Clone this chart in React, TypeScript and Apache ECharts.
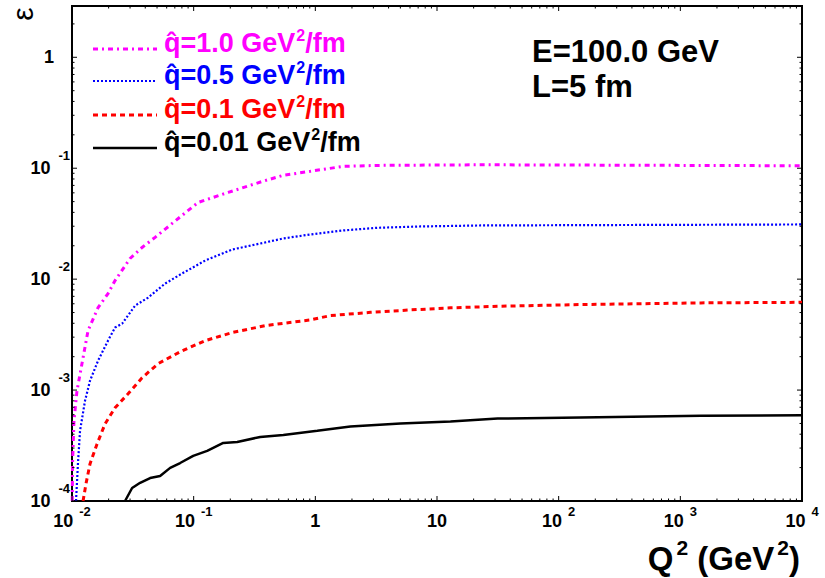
import React, { useEffect, useRef } from 'react';
import * as echarts from 'echarts';

// q̂ = 1.0 GeV²/fm
const q2Q10 = [0.01005, 0.0101, 0.01038, 0.01099, 0.01233, 0.01355, 0.01637, 0.01977, 0.02259, 0.02999, 0.03767, 0.04819, 0.0804, 0.1089, 0.1923, 0.3664, 0.5458, 0.9099, 1.698, 3.236, 22.8, 316, 10000];
const epsQ10 = [0.0001, 0.000216, 0.000528, 0.000986, 0.00196, 0.00344, 0.00553, 0.00741, 0.00971, 0.01535, 0.0193, 0.0238, 0.0376, 0.0492, 0.0605, 0.076, 0.0863, 0.0938, 0.104, 0.106, 0.1074, 0.1065, 0.1052];
// q̂ = 0.5 GeV²/fm
const q2Q05 = [0.01079, 0.01119, 0.01164, 0.01279, 0.01406, 0.01637, 0.01977, 0.02259, 0.02582, 0.03304, 0.04227, 0.0582, 0.0804, 0.1245, 0.2075, 0.3873, 0.5458, 0.9099, 1.698, 3.236, 7.31, 22.8, 10000];
const epsQ05 = [0.0001, 0.000216, 0.000429, 0.0008, 0.001213, 0.00184, 0.00279, 0.00366, 0.00397, 0.00578, 0.00682, 0.00912, 0.01125, 0.01472, 0.01849, 0.02143, 0.02328, 0.02529, 0.02748, 0.02904, 0.02985, 0.03048, 0.03112];
// q̂ = 0.1 GeV²/fm
const q2Q01 = [0.01233, 0.01303, 0.01406, 0.01607, 0.01871, 0.02259, 0.02891, 0.03767, 0.05105, 0.0804, 0.1245, 0.2075, 0.3873, 0.5458, 0.9099, 1.327, 2.838, 6.05, 12.91, 31.5, 151.7, 1476, 10000];
const epsQ01 = [0.0001, 0.000143, 0.000216, 0.000327, 0.000497, 0.000692, 0.000927, 0.00129, 0.00173, 0.00226, 0.00279, 0.0033, 0.00381, 0.004, 0.00429, 0.00469, 0.00502, 0.00528, 0.00551, 0.00569, 0.0059, 0.00611, 0.00618];
// q̂ = 0.01 GeV²/fm
const q2Q001 = [0.02729, 0.03119, 0.03631, 0.04385, 0.05297, 0.0641, 0.0774, 0.0991, 0.1291, 0.175, 0.228, 0.3524, 0.5458, 1.0375, 1.941, 5.01, 12.91, 31.5, 151.7, 1476, 10000];
const epsQ001 = [0.0001, 0.000131, 0.000146, 0.000161, 0.000168, 0.000199, 0.00022, 0.000255, 0.000283, 0.000334, 0.000341, 0.000378, 0.000394, 0.000429, 0.000469, 0.000499, 0.00052, 0.000553, 0.000565, 0.000586, 0.000594];

const legendLabels = ['q̂=1.0 GeV', 'q̂=0.5 GeV', 'q̂=0.1 GeV', 'q̂=0.01 GeV'];
const legendColors = ['#ff00ff', '#0000ff', '#ff0000', '#000000'];
const annotation = ['E=100.0 GeV', 'L=5 fm'];

const X_MIN = 0.01;
const X_MAX = 10000;
const Y_MIN = 0.0001;
const Y_MAX = 2.9;

const FONT = "'Liberation Sans', Arial, Helvetica, sans-serif";

function pairs(xs: number[], ys: number[]) {
  return xs.map((x, i) => [x, ys[i]]);
}

function powLabel(v: number, axis: 'x' | 'y') {
  const l = Math.log10(v);
  const e = Math.round(l);
  if (Math.abs(l - e) > 1e-6) return '';
  if (e === 0) return axis === 'y' ? '{one|1}' : '{a|1}';
  if (e === 1 && axis === 'x') return '{a|10}';
  return `{a|10}{s|${e}}`;
}

export default function App() {
  const ref = useRef<HTMLDivElement>(null);
  useEffect(() => {
    if (!ref.current) return;
    const chart = echarts.init(ref.current, undefined, { renderer: 'svg' });

    const tickData: number[][] = [];
    for (let k = -2; k < 4; k++) {
      for (let m = 1; m < 10; m++) tickData.push([m * Math.pow(10, k), Y_MIN, m === 1 ? 1 : 0, 0]);
    }
    tickData.push([X_MAX, Y_MIN, 1, 0]);
    for (let k = -4; k <= 0; k++) {
      for (let m = 1; m < 10; m++) {
        const v = m * Math.pow(10, k);
        if (v <= Y_MAX) tickData.push([X_MIN, v, m === 1 ? 1 : 0, 1]);
      }
    }

    const legendGraphics: any[] = [];
    const rowY = [49, 81, 115, 148];
    const dashes: any[] = [[5, 4, 2, 4], [2, 2], [5, 4], null];
    const widths = [3, 2.2, 3, 2.5];
    legendLabels.forEach((lab, i) => {
      legendGraphics.push({
        type: 'line',
        shape: { x1: 93, y1: rowY[i], x2: 157, y2: rowY[i] },
        style: { stroke: legendColors[i], lineWidth: widths[i], lineDash: dashes[i] || undefined },
      });
      legendGraphics.push({
        type: 'text',
        x: 164,
        y: rowY[i] - 6,
        style: {
          text: `{m|${lab}}{s|2}{m|/fm}`,
          fill: legendColors[i],
          verticalAlign: 'middle',
          rich: {
            m: { fontSize: 27, fontWeight: 'bold', fontFamily: FONT, fill: legendColors[i], lineHeight: 26 },
            s: { fontSize: 16, fontWeight: 'bold', fontFamily: FONT, fill: legendColors[i], padding: [0, 0, 16, 1], lineHeight: 26 },
          },
        },
      });
    });

    const option: any = {
      animation: false,
      backgroundColor: '#fff',
      grid: { left: 72, right: 23, top: 6, bottom: 77, show: true, borderColor: '#000', borderWidth: 2, backgroundColor: 'transparent' },
      xAxis: {
        type: 'log', logBase: 10, min: X_MIN, max: X_MAX,
        axisLine: { show: false }, axisTick: { show: false }, splitLine: { show: false },
        axisLabel: {
          margin: 3,
          formatter: (v: number) => powLabel(v, 'x'),
          rich: {
            a: { fontSize: 18, fontWeight: 'bold', fontFamily: FONT, color: '#000', lineHeight: 34 },
            s: { fontSize: 13, fontWeight: 'bold', fontFamily: FONT, color: '#000', padding: [0, 0, 20, 6] },
          },
        },
      },
      yAxis: {
        type: 'log', logBase: 10, min: Y_MIN, max: Y_MAX,
        axisLine: { show: false }, axisTick: { show: false }, splitLine: { show: false },
        axisLabel: {
          margin: 2,
          formatter: (v: number) => powLabel(v, 'y'),
          rich: {
            a: { fontSize: 18, fontWeight: 'bold', fontFamily: FONT, color: '#000' },
            one: { fontSize: 18, fontWeight: 'bold', fontFamily: FONT, color: '#000', padding: [0, 16, 0, 0] },
            s: { fontSize: 13, fontWeight: 'bold', fontFamily: FONT, color: '#000', padding: [0, 0, 26, 8] },
          },
        },
      },
      graphic: [
        ...legendGraphics,
        {
          type: 'text', x: 532, y: 51,
          style: { text: annotation[0], fill: '#000', font: `bold 31px ${FONT}`, verticalAlign: 'middle' },
        },
        {
          type: 'text', x: 532, y: 86,
          style: { text: annotation[1], fill: '#000', font: `bold 31px ${FONT}`, verticalAlign: 'middle' },
        },
        {
          type: 'text', x: 800, y: 558,
          style: {
            text: '{m|Q}{s|2}{m| (GeV}{s|2}{m|)}',
            align: 'right', verticalAlign: 'middle',
            rich: {
              m: { fontSize: 33, fontWeight: 'bold', fontFamily: FONT, fill: '#000', lineHeight: 34 },
              s: { fontSize: 21, fontWeight: 'bold', fontFamily: FONT, fill: '#000', padding: [0, 0, 22, 3], lineHeight: 34 },
            },
          },
        },
        {
          type: 'text', x: 22, y: 14, rotation: Math.PI / 2,
          style: { text: 'ε', fill: '#000', font: `30px ${FONT}`, align: 'center', verticalAlign: 'middle' },
        },
      ],
      series: [
        {
          name: 'q̂=1.0 GeV²/fm', type: 'line', showSymbol: false, symbol: 'none',
          data: pairs(q2Q10, epsQ10),
          lineStyle: { color: '#ff00ff', width: 3, type: [5, 4, 2, 4], cap: 'butt' },
        },
        {
          name: 'q̂=0.5 GeV²/fm', type: 'line', showSymbol: false, symbol: 'none',
          data: pairs(q2Q05, epsQ05),
          lineStyle: { color: '#0000ff', width: 2.2, type: [2, 2], cap: 'butt' },
        },
        {
          name: 'q̂=0.1 GeV²/fm', type: 'line', showSymbol: false, symbol: 'none',
          data: pairs(q2Q01, epsQ01),
          lineStyle: { color: '#ff0000', width: 3, type: [5, 4], cap: 'butt' },
        },
        {
          name: 'q̂=0.01 GeV²/fm', type: 'line', showSymbol: false, symbol: 'none',
          data: pairs(q2Q001, epsQ001),
          lineStyle: { color: '#000000', width: 2.5, type: 'solid' },
        },
        {
          type: 'custom', silent: true, clip: false, z: 5,
          data: tickData,
          encode: { x: 0, y: 1 },
          renderItem: (_p: any, api: any) => {
            const x = api.value(0);
            const y = api.value(1);
            const major = api.value(2);
            const kind = api.value(3);
            const len = major ? 5 : 2.5;
            const style = { stroke: '#000', lineWidth: 1 };
            if (kind === 0) {
              const b = api.coord([x, Y_MIN]);
              const t = api.coord([x, Y_MAX]);
              return {
                type: 'group', children: [
                  { type: 'line', shape: { x1: b[0], y1: b[1], x2: b[0], y2: b[1] - len }, style },
                  { type: 'line', shape: { x1: t[0], y1: t[1], x2: t[0], y2: t[1] + len }, style },
                ],
              };
            }
            const l = api.coord([X_MIN, y]);
            const r = api.coord([X_MAX, y]);
            return {
              type: 'group', children: [
                { type: 'line', shape: { x1: l[0], y1: l[1], x2: l[0] + len, y2: l[1] }, style },
                { type: 'line', shape: { x1: r[0], y1: r[1], x2: r[0] - len, y2: r[1] }, style },
              ],
            };
          },
        },
      ],
    };
    chart.setOption(option);
    return () => chart.dispose();
  }, []);
  return <div ref={ref} style={{ position: 'absolute', left: 0, top: 0, width: 825, height: 578 }} />;
}
